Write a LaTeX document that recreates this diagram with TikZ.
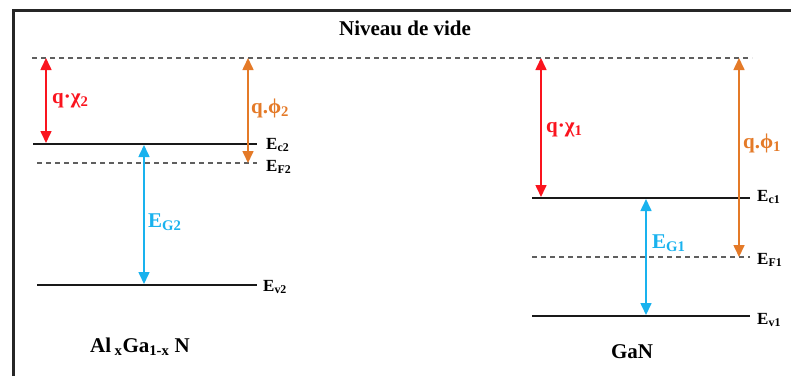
\documentclass[tikz,border=0pt]{standalone}
\usepackage{fontspec}
\setmainfont{Liberation Serif}
\usetikzlibrary{arrows.meta}
\definecolor{chired}{RGB}{250,20,30}
\definecolor{phiorange}{RGB}{228,122,40}
\definecolor{gapblue}{RGB}{25,178,238}
\definecolor{dashgray}{RGB}{95,95,95}
\begin{document}
\begin{tikzpicture}[x=1pt,y=-1pt,
  frame/.style={line width=3pt,black!85},
  bandline/.style={line width=2.6pt,black!90},
  dashline/.style={dashgray,line width=1.3pt,dash pattern=on 5pt off 4pt},
  darrow/.style={{Triangle[width=11pt,length=12pt]}-{Triangle[width=11pt,length=12pt]},line width=1.6pt},
  biglbl/.style={font=\bfseries\fontsize{21}{24}\selectfont,inner sep=0pt},
  smlbl/.style={font=\bfseries\fontsize{17}{19}\selectfont,inner sep=0pt,anchor=west}]
\useasboundingbox (0,0) rectangle (791,376);
% frame (only top and left edges visible)
\draw[frame] (13,376) -- (13,10) -- (791,10);
% vacuum level
\coordinate (vacL) at (32,58);
\coordinate (vacR) at (752,58);
\draw[dashline] (vacL) -- (vacR);
\node[biglbl] (title) at (405,28) {Niveau de vide};
% AlGaN levels
\coordinate (Ec2L) at (33,144);  \coordinate (Ec2R) at (257,144);
\coordinate (EF2L) at (37,163);  \coordinate (EF2R) at (257,163);
\coordinate (Ev2L) at (37,285);  \coordinate (Ev2R) at (257,285);
\draw[bandline] (Ec2L) -- (Ec2R);
\draw[dashline] (EF2L) -- (EF2R);
\draw[bandline] (Ev2L) -- (Ev2R);
\node[smlbl] (lEc2) at (266,145) {E\textsubscript{c2}};
\node[smlbl] (lEF2) at (266,167) {E\textsubscript{F2}};
\node[smlbl] (lEv2) at (263,287) {E\textsubscript{v2}};
% GaN levels
\coordinate (Ec1L) at (532,198); \coordinate (Ec1R) at (750,198);
\coordinate (EF1L) at (532,257); \coordinate (EF1R) at (750,257);
\coordinate (Ev1L) at (532,316); \coordinate (Ev1R) at (750,316);
\draw[bandline] (Ec1L) -- (Ec1R);
\draw[dashline] (EF1L) -- (EF1R);
\draw[bandline] (Ev1L) -- (Ev1R);
\node[smlbl] (lEc1) at (757,197) {E\textsubscript{c1}};
\node[smlbl] (lEF1) at (757,260) {E\textsubscript{F1}};
\node[smlbl] (lEv1) at (757,320) {E\textsubscript{v1}};
% arrow end points
\coordinate (chi2t) at (46,58);   \coordinate (chi2b) at (46,143);
\coordinate (phi2t) at (248,58);  \coordinate (phi2b) at (248,163);
\coordinate (gap2t) at (144,145); \coordinate (gap2b) at (144,284);
\coordinate (chi1t) at (541,58);  \coordinate (chi1b) at (541,197);
\coordinate (phi1t) at (739,58);  \coordinate (phi1b) at (739,257);
\coordinate (gap1t) at (646,199); \coordinate (gap1b) at (646,315);
\draw[darrow,chired] (chi2t) -- (chi2b);
\draw[darrow,phiorange] (phi2t) -- (phi2b);
\draw[darrow,gapblue] (gap2t) -- (gap2b);
\draw[darrow,chired] (chi1t) -- (chi1b);
\draw[darrow,phiorange] (phi1t) -- (phi1b);
\draw[darrow,gapblue] (gap1t) -- (gap1b);
% arrow labels
\node[biglbl,anchor=west,chired] (lchi2) at (52,101) {q·χ\textsubscript{2}};
\node[biglbl,anchor=west,phiorange] (lphi2) at (251,108) {q.ϕ\textsubscript{2}};
\node[biglbl,anchor=west,gapblue] (lgap2) at (148,222) {E\textsubscript{G2}};
\node[biglbl,anchor=west,chired] (lchi1) at (546,130) {q·χ\textsubscript{1}};
\node[biglbl,anchor=west,phiorange] (lphi1) at (743,143) {q.ϕ\textsubscript{1}};
\node[biglbl,anchor=west,gapblue] (lgap1) at (652,243) {E\textsubscript{G1}};
% material names
\node[biglbl] (alg) at (140,347) {Al\,\textsubscript{x}Ga\textsubscript{1-x} N};
\node[biglbl] (gan) at (632,352) {GaN};
\end{tikzpicture}
\end{document}
